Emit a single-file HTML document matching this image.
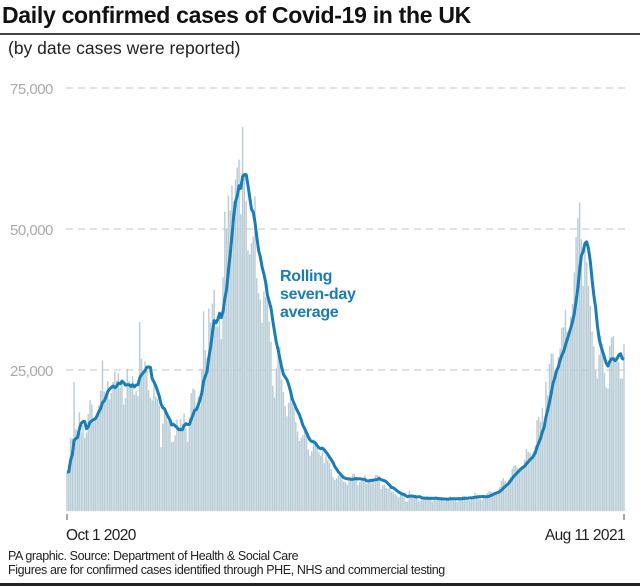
<!DOCTYPE html>
<html><head><meta charset="utf-8"><style>
body{margin:0;width:640px;height:586px;background:#fff;font-family:"Liberation Sans",sans-serif;overflow:hidden;position:relative}
.t{position:absolute;left:2px;top:2px;font-size:23px;font-weight:bold;color:#111;letter-spacing:-0.3px}
.rule{position:absolute;left:0;width:640px;background:#444}
.s{position:absolute;left:8px;top:38px;font-size:17.5px;color:#222}
.f{position:absolute;left:8px;font-size:12.5px;color:#222;letter-spacing:-0.4px}
</style></head><body>
<div class="t">Daily confirmed cases of Covid-19 in the UK</div>
<div class="rule" style="top:33px;height:2px"></div>
<div class="s">(by date cases were reported)</div>
<svg id="c" width="640" height="586" style="position:absolute;left:0;top:0"></svg>
<div class="f" style="top:549px">PA graphic. Source: Department of Health &amp; Social Care</div>
<div class="f" style="top:563px">Figures are for confirmed cases identified through PHE, NHS and commercial testing</div>
<div class="rule" style="top:583px;height:3px;background:#222"></div>
<script>
const yTicks=[25000,50000,75000];
const yTickLabels=["25,000","50,000","75,000"];
const xLabels=["Oct 1 2020","Aug 11 2021"];
// daily cases (thousands) from Oct 1 2020 to Aug 11 2021
const daily=[
6.9,7.0,12.9,12.9,22.9,14.5,14.2, 17.5,13.9,15.2,12.9,13.9,17.2,19.7, 18.9,15.7,16.2,16.9,18.8,21.3,26.7,
21.2,20.5,23.0,19.8,20.9,22.9,24.7, 23.1,24.4,21.9,23.3,18.9,20.0,25.2, 23.1,22.3,23.9,20.6,21.3,20.4,33.5,
27.0,25.0,26.5,24.9,21.4,20.1,19.6, 22.9,20.3,19.9,18.7,11.3,15.5,18.2, 17.6,16.0,15.9,12.2,12.3,13.4,16.2,
14.9,16.3,15.5,17.3,14.7,12.3,16.6, 20.9,21.7,21.5,18.4,20.3,18.5,25.2, 35.4,28.5,27.1,35.9,33.4,36.8,39.2,
32.7,32.7,34.7,30.5,41.4,53.1,50.0, 55.9,53.3,57.7,54.9,58.8,60.9,62.3, 52.6,68.1,59.9,54.9,46.2,45.5,47.5,
48.7,55.8,41.3,38.6,37.5,33.4,38.9, 37.9,40.3,33.6,30.0,22.2,20.1,25.3, 28.7,29.1,23.3,21.1,18.6,16.8,19.2,
20.6,19.1,18.3,15.8,14.1,12.4,13.0, 13.5,15.1,13.3,10.9,9.8,10.6,12.7, 12.0,12.0,10.4,9.8,10.6,8.5,9.9,
9.0,8.5,7.4,6.0,5.5,5.8,6.3, 6.6,6.0,5.2,5.2,4.7,5.8,5.9, 6.6,6.6,5.5,4.6,5.1,5.3,5.7,
6.3,4.8,5.5,5.3,5.3,5.4,6.4, 6.4,6.2,3.9,4.6,4.7,4.1,4.0, 4.5,3.4,3.4,3.0,2.8,2.4,2.9,
3.0,3.2,1.7,1.7,3.6,2.5,2.7, 2.6,2.6,1.9,1.8,2.0,2.5,2.4, 2.7,2.3,2.1,1.7,2.1,2.6,2.1,
2.4,2.1,1.9,1.7,2.0,2.4,2.6, 2.5,2.0,1.9,1.6,2.4,2.3,2.7, 2.7,2.2,2.0,1.9,2.4,2.7,3.2,
2.9,2.6,2.2,1.9,2.5,2.5,3.2, 3.5,3.4,3.2,3.2,3.4,3.2,4.3, 5.3,5.8,5.3,5.0,5.6,6.0,7.5,
8.1,8.1,7.6,7.4,7.7,7.7,9.1, 11.0,10.5,10.3,9.3,10.6,11.6,16.1, 16.7,15.8,18.3,14.9,22.9,20.5,26.1,
27.9,27.9,24.9,24.2,27.3,28.8,32.5, 32.6,35.7,31.8,31.4,34.5,36.7,42.3, 48.6,51.9,54.7,48.2,39.9,46.6,44.1,
39.9,36.4,31.8,29.2,24.9,23.5,27.7, 31.1,29.6,24.5,21.9,21.7,29.3,30.8, 31.0,27.4,26.7,26.5,23.5,23.5,29.6];
const NS="http://www.w3.org/2000/svg";
const svg=document.getElementById('c');
const x0=67,x1=624,y0=511,yPer=141/25000;
const xS=i=>x0+(x1-x0)*i/(daily.length-1);
const yS=v=>y0-v*yPer;
function mk(t,a){const e=document.createElementNS(NS,t);for(const k in a)e.setAttribute(k,a[k]);svg.appendChild(e);return e;}
yTicks.forEach((v,i)=>{
  const g=mk('line',{x1:66,x2:630,y1:yS(v),y2:yS(v),stroke:'#c4c4c4','stroke-width':1,'stroke-dasharray':'7,5'});
  
  
  const t=mk('text',{x:10,y:yS(v)+6,'font-size':15,fill:'#aaa','letter-spacing':'-0.5'});
  t.textContent=yTickLabels[i];
  
  
});
daily.forEach((v,i)=>{
  const b=mk('rect',{x:xS(i)-0.75,y:yS(v*1000),width:1.45,height:v*1000*yPer,fill:'#b9cdd7'});
  
  
});
let pts=[];
daily.forEach((v,i)=>{const s=daily.slice(Math.max(0,i-6),i+1);const a=s.reduce((p,c)=>p+c,0)/s.length;pts.push(xS(i).toFixed(1)+','+yS(a*1000).toFixed(1));});
const ln=mk('polyline',{points:pts.join(' '),fill:'none',stroke:'#1a7db5','stroke-width':3,'stroke-linejoin':'round'});


[[0,'start'],[daily.length-1,'end']].forEach((d,i)=>{
  const tk=mk('line',{x1:xS(d[0]),x2:xS(d[0]),y1:514,y2:520,stroke:'#555','stroke-width':1});
  
  
  const t=mk('text',{x:xS(d[0])+(i?1:-1),y:540,'font-size':15.5,fill:'#222','text-anchor':d[1],'letter-spacing':'-0.6'});
  t.textContent=xLabels[i];
  
  
});
['Rolling','seven-day','average'].forEach((s,i)=>{
  const t=mk('text',{x:280,y:281+i*18,'font-size':16,fill:'#1a7db5','font-weight':'bold','letter-spacing':'-0.3'});
  t.textContent=s;
  
  
});
</script>
</body></html>
